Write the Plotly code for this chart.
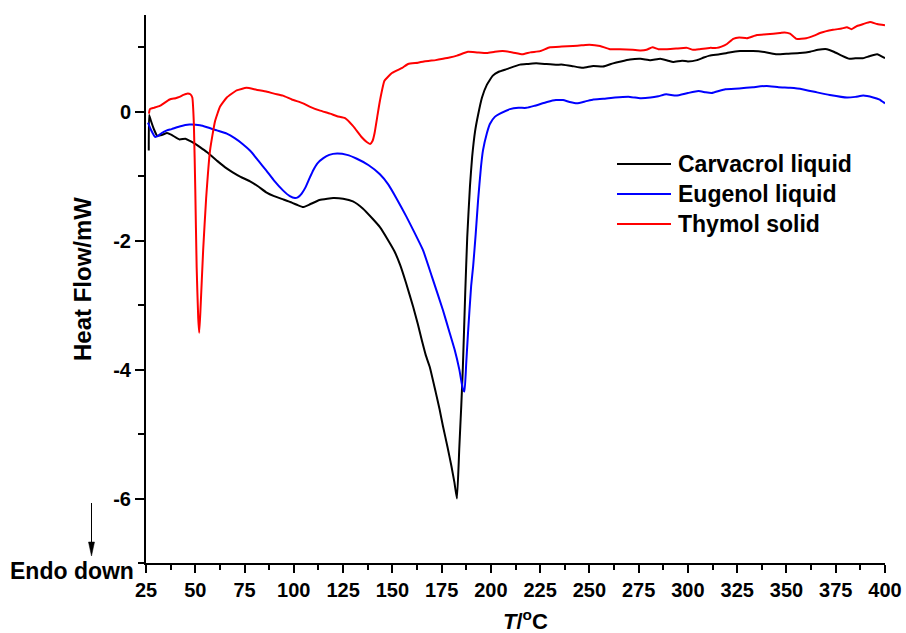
import plotly.graph_objects as go

# ---------------- data ----------------
carvacrol_T = [26.4, 26.6, 27.5, 29, 30.6, 33, 35.7, 38, 42, 45, 47, 50, 52.4, 56, 61, 65, 69, 73, 77.8, 82,
               86, 90, 94.6, 99, 102, 104.7, 108, 113, 117, 120, 125, 130, 135, 140, 143.7, 148, 151, 154,
               157, 160.6, 163, 165, 167, 169, 172, 174, 175.7, 178, 180, 181.5, 182.8, 184, 185, 185.8, 187,
               188, 189.4, 190.5, 192, 193.5, 195.5, 198, 201, 204, 208, 214.8, 219, 223, 228, 233, 236.6,
               241, 246.7, 252, 256.9, 262, 266, 270.6, 276, 281, 286, 290, 292.5, 297, 300, 304.6, 308,
               311, 316, 321, 326.4, 333, 340, 345, 351, 356.8, 362, 366, 370.5, 374, 378, 382, 385, 388.8,
               392, 396, 400]
carvacrol_HF = [-0.60, -0.05, -0.14, -0.27, -0.37, -0.36, -0.33, -0.36, -0.43, -0.42, -0.45, -0.50, -0.55,
                -0.63, -0.76, -0.86, -0.94, -1.01, -1.08, -1.16, -1.25, -1.31, -1.36, -1.41, -1.45, -1.48,
                -1.44, -1.37, -1.35, -1.34, -1.35, -1.39, -1.50, -1.66, -1.79, -2.00, -2.16, -2.38, -2.66,
                -3.03, -3.30, -3.55, -3.78, -3.96, -4.35, -4.62, -4.88, -5.20, -5.50, -5.75, -6.00, -5.20,
                -4.55, -3.96, -2.80, -1.95, -1.15, -0.70, -0.30, -0.05, 0.22, 0.42, 0.56, 0.62, 0.66, 0.73,
                0.74, 0.75, 0.74, 0.73, 0.73, 0.71, 0.68, 0.71, 0.70, 0.75, 0.78, 0.81, 0.82, 0.80, 0.82,
                0.79, 0.77, 0.79, 0.78, 0.80, 0.84, 0.87, 0.89, 0.92, 0.94, 0.94, 0.92, 0.89, 0.90, 0.91,
                0.93, 0.96, 0.97, 0.93, 0.87, 0.82, 0.83, 0.83, 0.86, 0.89, 0.83]

eugenol_T = [26, 27.5, 29.6, 31, 33, 35.6, 38, 42, 47, 52.4, 56, 61, 66, 70, 74, 78, 82, 86, 90, 94.5, 98,
             100.6, 102, 104, 106, 108, 110, 112, 115, 118, 122, 127, 132, 138, 143.7, 148, 152.4, 157, 161,
             165.6, 170, 175.7, 179, 181.6, 184, 185.8, 186.6, 187.5, 188.4, 190, 191, 192.3, 193.5, 195,
             196, 198, 199.5, 202, 204.6, 209.7, 214, 218, 222, 228.5, 233, 236.6, 240, 243.7, 248, 252,
             257, 263, 270.6, 275.7, 281, 285, 289, 294, 300, 305.4, 309, 312, 319, 326, 333, 340, 346,
             351.8, 358, 365.5, 372, 380.7, 385, 389, 394, 397, 400]
eugenol_HF = [-0.17, -0.28, -0.39, -0.38, -0.33, -0.29, -0.27, -0.23, -0.20, -0.21, -0.24, -0.29, -0.34,
              -0.41, -0.50, -0.61, -0.76, -0.91, -1.07, -1.22, -1.31, -1.34, -1.33, -1.27, -1.17, -1.03,
              -0.90, -0.80, -0.72, -0.67, -0.65, -0.67, -0.73, -0.83, -0.97, -1.13, -1.36, -1.62, -1.86,
              -2.15, -2.55, -3.08, -3.42, -3.69, -4.00, -4.30, -4.34, -3.90, -3.43, -2.70, -2.40, -1.90,
              -1.38, -0.85, -0.60, -0.33, -0.19, -0.08, -0.03, 0.04, 0.06, 0.06, 0.09, 0.15, 0.18, 0.18,
              0.15, 0.13, 0.16, 0.19, 0.20, 0.22, 0.23, 0.21, 0.22, 0.24, 0.27, 0.25, 0.29, 0.32, 0.30,
              0.29, 0.35, 0.36, 0.38, 0.40, 0.38, 0.37, 0.35, 0.30, 0.26, 0.22, 0.23, 0.25, 0.22, 0.19,
              0.13]

thymol_T = [26.5, 27, 29, 32, 34, 37, 40, 42, 44, 45.8, 47.5, 48.5, 49.3, 50, 50.7, 51.5, 52, 52.6, 54,
            55.5, 57.5, 60, 62.6, 66, 71, 76, 81, 86.4, 90, 94.5, 99, 104.7, 108, 113, 118.4, 122, 126,
            130, 134.6, 137, 138.7, 140, 141, 142.5, 143.7, 146, 149.8, 155, 158, 163, 166, 169, 172,
            175.7, 179, 182.8, 188.4, 193, 198, 202, 206, 211, 216, 220, 225, 230, 236, 241.7, 246, 250,
            255.4, 260.4, 265.5, 272, 276, 279, 282, 285, 289, 294, 299.5, 302.6, 306, 311, 314.6, 317,
            319.8, 323, 326, 330, 335, 340, 346.7, 349, 351.8, 355, 360, 364, 367, 373.6, 378, 380.7, 383,
            385.8, 389, 392.4, 396, 400]
thymol_HF = [-0.03, 0.04, 0.06, 0.09, 0.13, 0.19, 0.21, 0.23, 0.26, 0.28, 0.27, 0.22, -0.20, -1.20, -2.41,
             -3.20, -3.43, -3.10, -2.15, -1.35, -0.60, -0.15, 0.08, 0.22, 0.33, 0.37, 0.34, 0.31, 0.28,
             0.25, 0.19, 0.13, 0.08, 0.02, -0.03, -0.07, -0.10, -0.22, -0.40, -0.47, -0.50, -0.45, -0.33,
             -0.05, 0.17, 0.48, 0.60, 0.68, 0.74, 0.76, 0.78, 0.79, 0.80, 0.82, 0.84, 0.87, 0.93, 0.92,
             0.91, 0.93, 0.94, 0.92, 0.89, 0.92, 0.94, 1.00, 1.01, 1.02, 1.03, 1.04, 1.02, 0.97, 0.97,
             0.96, 0.95, 0.96, 1.00, 0.97, 0.97, 0.98, 0.99, 0.96, 0.97, 0.99, 0.99, 1.01, 1.05, 1.13,
             1.15, 1.14, 1.19, 1.20, 1.22, 1.23, 1.21, 1.13, 1.14, 1.18, 1.22, 1.27, 1.29, 1.31, 1.28,
             1.33, 1.36, 1.39, 1.36, 1.34]

series_names = ["Carvacrol liquid", "Eugenol liquid", "Thymol solid"]
series_colors = ["#000000", "#0000FF", "#FF0000"]
x_ticks = [25, 50, 75, 100, 125, 150, 175, 200, 225, 250, 275, 300, 325, 350, 375, 400]
y_ticks = [-6, -4, -2, 0]
y_tick_text = ["-6", "-4", "-2", "0"]

FONT = "Liberation Sans, Arial, sans-serif"
L, R, T_, B = 146, 885, 15, 563  # plot area in pixels
PW, PH = R - L, B - T_


def px(xp):
    return (xp - L) / PW


def py(yp):
    return (B - yp) / PH


fig = go.Figure()
for name, color, T, HF in zip(series_names, series_colors,
                              [carvacrol_T, eugenol_T, thymol_T],
                              [carvacrol_HF, eugenol_HF, thymol_HF]):
    fig.add_trace(go.Scatter(x=T, y=HF, mode="lines", name=name,
                             line=dict(color=color, width=2, shape="spline", smoothing=0.4),
                             showlegend=False))

fig.update_layout(
    width=906, height=633,
    margin=dict(l=L, r=906 - R, t=T_, b=633 - B, pad=0),
    paper_bgcolor="white", plot_bgcolor="white",
    font=dict(family=FONT, size=20, color="black", weight="bold"),
)
fig.update_xaxes(
    range=[25, 400], tickmode="array", tickvals=x_ticks, ticktext=[str(v) for v in x_ticks],
    automargin=False,
    showgrid=False, zeroline=False, showline=True, linecolor="black", linewidth=2,
    ticks="outside", ticklen=8, tickwidth=1.5, tickcolor="black",
    tickfont=dict(family=FONT, size=20, color="black", weight="bold"),
    minor=dict(tickmode="linear", tick0=25, dtick=12.5, ticks="outside", ticklen=5,
               tickwidth=1.5, tickcolor="black", showgrid=False),
)
fig.update_yaxes(
    range=[-7, 1.5], tickmode="array", tickvals=y_ticks, ticktext=y_tick_text,
    automargin=False,
    showgrid=False, zeroline=False, showline=True, linecolor="black", linewidth=2,
    ticks="outside", ticklen=9, tickwidth=1.5, tickcolor="black",
    tickfont=dict(family=FONT, size=20, color="black", weight="bold"),
    minor=dict(tickmode="linear", tick0=0, dtick=1, ticks="outside", ticklen=6,
               tickwidth=1.5, tickcolor="black", showgrid=False),
)

# axis titles
fig.add_annotation(xref="paper", yref="paper", x=px(525), y=py(620),
                   xanchor="center", yanchor="middle",
                   text="<i>T</i>/<sup>o</sup>C", showarrow=False,
                   font=dict(family=FONT, size=22, color="black", weight="bold"))
fig.add_annotation(xref="paper", yref="paper", x=px(82), y=py(279),
                   xanchor="center", yanchor="middle",
                   text="Heat Flow/mW", textangle=-90, showarrow=False,
                   font=dict(family=FONT, size=24, color="black", weight="bold"))
# Endo down + arrow (arrow drawn as shapes)
fig.add_annotation(xref="paper", yref="paper", x=px(72), y=py(571),
                   xanchor="center", yanchor="middle",
                   text="Endo down", showarrow=False,
                   font=dict(family=FONT, size=23, color="black", weight="bold"))
fig.add_shape(type="line", xref="paper", yref="paper",
              x0=px(91.5), x1=px(91.5), y0=py(503), y1=py(544),
              line=dict(color="black", width=1))
fig.add_shape(type="path", xref="paper", yref="paper",
              path=f"M {px(88.5)} {py(542)} L {px(94.5)} {py(542)} L {px(91.5)} {py(556)} Z",
              fillcolor="black", line=dict(color="black", width=0.5))

# legend (drawn by hand to match the reference layout)
leg_y = [164, 194, 224]
for name, color, yy in zip(series_names, series_colors, leg_y):
    fig.add_shape(type="line", xref="paper", yref="paper",
                  x0=px(617), x1=px(671), y0=py(yy), y1=py(yy),
                  line=dict(color=color, width=2))
    fig.add_annotation(xref="paper", yref="paper", x=px(676), y=py(yy),
                       xanchor="left", yanchor="middle", text=name, showarrow=False,
                       font=dict(family=FONT, size=23, color="black", weight="bold"))

fig.write_html("out.html")
